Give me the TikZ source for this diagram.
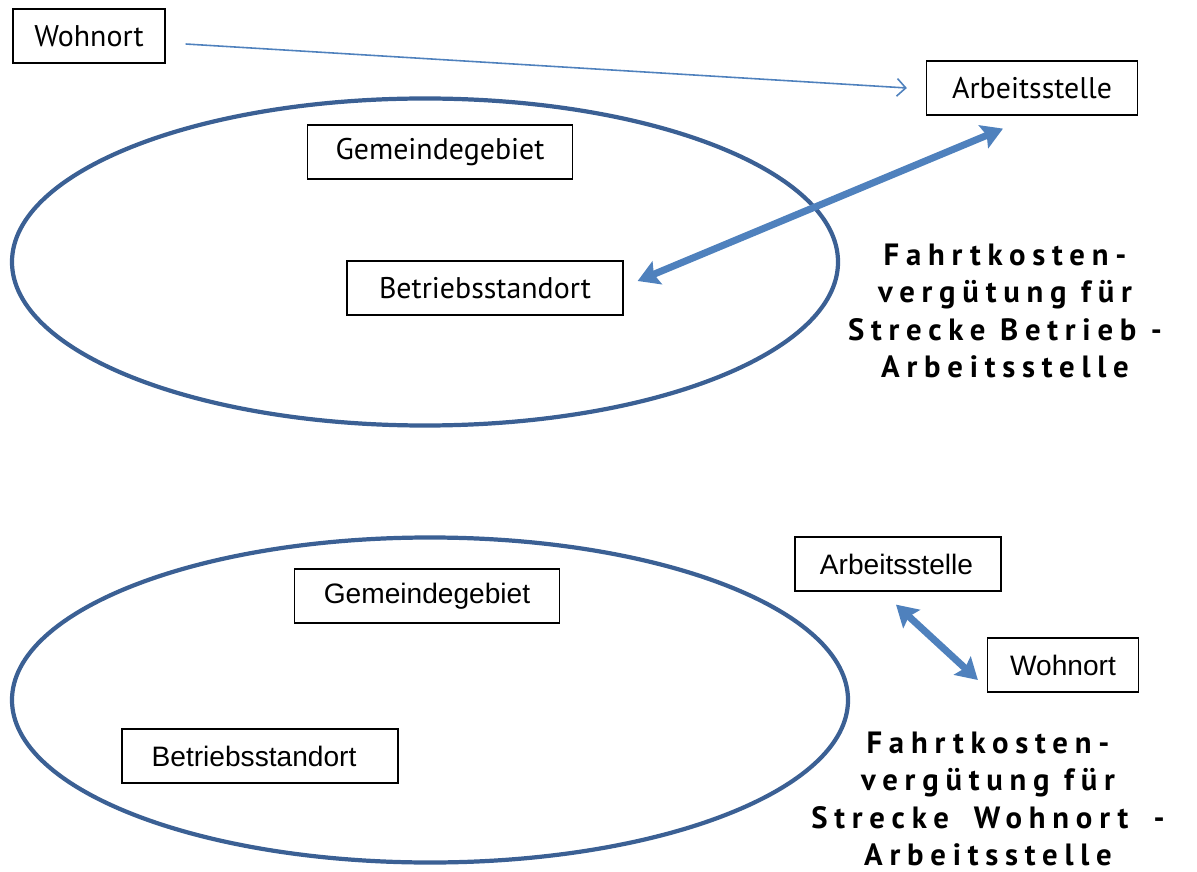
\documentclass[tikz,border=0pt]{standalone}
\usepackage{fontspec}
\usetikzlibrary{arrows.meta,shapes.geometric}
\newfontfamily\topfont{PT Sans}
\newfontfamily\arialfont{Liberation Sans}
\newfontfamily\capfont[LetterSpace=22]{PT Sans Bold}
\definecolor{ellcol}{HTML}{3B6094}
\definecolor{arrcol}{HTML}{4F81BD}
\tikzset{
  lbox/.style={draw=black, line width=0.7pt, inner sep=0pt, minimum height=10.8mm},
  tfont/.style={font=\topfont\fontsize{17}{20}\selectfont},
  afont/.style={font=\arialfont\fontsize{16}{19}\selectfont},
  area/.style={draw=ellcol, line width=2.4pt, ellipse, inner sep=0pt},
  thinarrow/.style={draw=arrcol, line width=0.9pt, -{Straight Barb[length=5pt,width=10pt]}},
  thickarrow/.style={draw=arrcol, line width=4pt, {Stealth[length=12pt,width=14pt,inset=2pt]}-{Stealth[length=12pt,width=14pt,inset=2pt]}},
  caption/.style={align=center, font=\capfont\fontsize{17.5}{21.3}\selectfont, inner sep=0pt}
}
\begin{document}
\begin{tikzpicture}[x=0.2mm,y=-0.2mm]
\useasboundingbox (0,0) rectangle (1197,872);
% ---------- top part ----------
\node[area, minimum width=165.2mm, minimum height=65.4mm] (gebiet1) at (425,262) {};
\node[lbox, tfont, minimum width=30.4mm] (wohn1) at (89,36) {Wohnort};
\node[lbox, tfont, minimum width=42.2mm] (arb1) at (1032,88) {Arbeitsstelle};
\node[lbox, tfont, minimum width=53mm] (gem1) at (440,152) {Gemeindegebiet};
\node[lbox, tfont, minimum width=55.2mm] (betr1) at (485,288) {Betriebsstandort};
\draw[thinarrow] ([xshift=4mm,yshift=-1.6mm]wohn1.east) -- ([xshift=-3.8mm]arb1.west);
\draw[thickarrow] ([xshift=2.8mm,yshift=1.4mm]betr1.east) -- ([xshift=-5.8mm,yshift=-2.6mm]arb1.south);
\node[caption] (cap1) at (1005,311) {Fahrtkosten-\\vergütung für\\Strecke Betrieb -\\Arbeitsstelle};
% ---------- bottom part ----------
\node[area, minimum width=167.2mm, minimum height=65mm] (gebiet2) at (430,700) {};
\node[lbox, afont, minimum width=53mm] (gem2) at (427,596) {Gemeindegebiet};
\node[lbox, afont, minimum width=55.2mm] (betr2) at (260,756) {\hspace*{-2.4mm}Betriebsstandort};
\node[lbox, afont, minimum width=41.2mm] (arb2) at (898,564) {\hspace*{-0.6mm}Arbeitsstelle};
\node[lbox, afont, minimum width=30.2mm] (wohn2) at (1063,665) {Wohnort};
\draw[thickarrow] ([xshift=-0.4mm,yshift=-2.6mm]arb2.south) -- ([xshift=-1.8mm,yshift=-3mm]wohn2.west);
\node[caption] (cap2) at (988,799) {Fahrtkosten-\\vergütung für\\Strecke\hspace{6pt} Wohnort\hspace{6pt} -\\Arbeitsstelle};
\end{tikzpicture}
\end{document}
